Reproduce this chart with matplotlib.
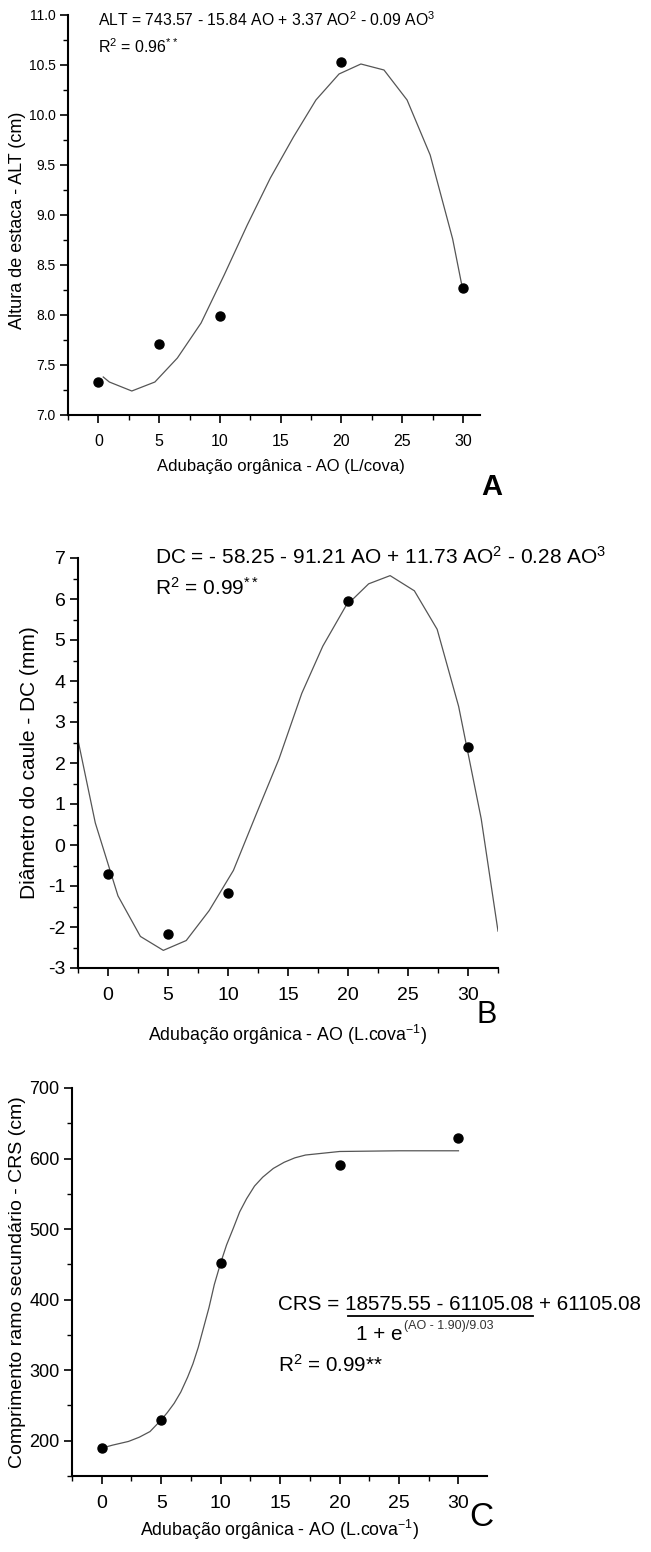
import matplotlib
matplotlib.use("Agg")
import matplotlib.pyplot as plt
from matplotlib import font_manager
from matplotlib.ticker import MultipleLocator, FormatStrFormatter
from matplotlib.lines import Line2D

# dados
ao = [0, 5, 10, 20, 30]
alt = [7.33, 7.71, 7.99, 10.53, 8.27]
dc = [-0.71, -2.16, -1.16, 5.94, 2.38]
crs = [190, 230, 452, 591, 629]

# curvas ajustadas (vertices)
alt_fit_x = [0.4, 0.9, 2.75, 4.65, 6.5, 8.45, 10.35, 12.25, 14.15, 16.05,
             17.9, 19.8, 21.6, 23.5, 25.4, 27.3, 29.15, 29.95]
alt_fit_y = [7.38, 7.33, 7.24, 7.33, 7.57, 7.92, 8.40, 8.90, 9.37, 9.78,
             10.15, 10.41, 10.51, 10.45, 10.15, 9.60, 8.76, 8.27]

dc_fit_x = [-2.5, -1.06, 0.83, 2.70, 4.61, 6.52, 8.43, 10.45, 12.35, 14.25,
            16.15, 17.9, 19.82, 21.72, 23.51, 25.53, 27.43, 29.22, 31.1, 32.5]
dc_fit_y = [2.56, 0.54, -1.24, -2.23, -2.57, -2.33, -1.60, -0.62, 0.75, 2.10,
            3.70, 4.85, 5.83, 6.37, 6.57, 6.20, 5.26, 3.38, 0.64, -2.10]

crs_fit_x = [0.1, 0.9, 2.25, 3.16, 4.06, 5.0, 5.52, 6.09, 6.65, 7.22, 7.67,
             8.12, 8.57, 9.02, 9.47, 10.0, 10.5, 11.06, 11.6, 12.18, 12.85,
             13.54, 14.43, 15.34, 16.24, 17.14, 20.0, 25.0, 30.0]
crs_fit_y = [190, 193.7, 199, 205, 213, 229.5, 240, 253, 269, 290, 309,
             332.5, 360.6, 388.7, 421.5, 452, 477.6, 501, 524.4, 543, 561,
             573.6, 586, 594.7, 601, 605, 610, 611, 611]

names = {f.name for f in font_manager.fontManager.ttflist}
narrow = "Liberation Sans Narrow" if "Liberation Sans Narrow" in names else "Liberation Sans"
plt.rcParams["font.family"] = [narrow, "DejaVu Sans"]
plt.rcParams["mathtext.fontset"] = "custom"
plt.rcParams["mathtext.rm"] = narrow
plt.rcParams["mathtext.it"] = narrow
plt.rcParams["axes.unicode_minus"] = False

W, H = 651, 1552
fig = plt.figure(figsize=(W / 100, H / 100), dpi=100)


def box(left, right, top, bottom):
    return [left / W, 1 - bottom / H, (right - left) / W, (bottom - top) / H]


def ftext(x, y, s, **kw):
    return fig.text(x / W, 1 - y / H, s, **kw)


def style(ax, xmaj, xmin, ymaj, ymin, xsize, ysize):
    for side in ["top", "right"]:
        ax.spines[side].set_visible(False)
    for side in ["left", "bottom"]:
        ax.spines[side].set_linewidth(1.5)
    ax.xaxis.set_major_locator(MultipleLocator(xmaj))
    ax.xaxis.set_minor_locator(MultipleLocator(xmin))
    ax.yaxis.set_major_locator(MultipleLocator(ymaj))
    ax.yaxis.set_minor_locator(MultipleLocator(ymin))
    ax.tick_params(which="major", direction="out", length=6, width=1.2)
    ax.tick_params(which="minor", direction="out", length=3.5, width=1.0)
    ax.tick_params(axis="x", labelsize=xsize, pad=8)
    ax.tick_params(axis="y", labelsize=ysize, pad=3)


# ---- A ----
axA = fig.add_axes(box(68, 480, 15, 415))
axA.plot(alt_fit_x, alt_fit_y, color="#555555", lw=0.9)
axA.plot(ao, alt, "o", color="black", ms=6.5)
axA.set_xlim(-2.5, 31.4)
axA.set_ylim(7.0, 11.0)
style(axA, 5, 2.5, 0.5, 0.25, 11.5, 10)
axA.yaxis.set_major_formatter(FormatStrFormatter("%.1f"))
axA.set_xticks([0, 5, 10, 15, 20, 25, 30])
ftext(98, 20, r"ALT = 743.57 - 15.84 AO + 3.37 AO$^2$ - 0.09 AO$^3$",
      fontsize=11.3, va="center")
ftext(98, 47, r"R$^2$ = 0.96$^{**}$", fontsize=11.5, va="center")
ftext(281, 467, "Adubação orgânica - AO (L/cova)", fontsize=12,
      ha="center", va="center")
ftext(18, 220, "Altura de estaca - ALT (cm)", fontsize=13, rotation=90,
      ha="center", va="center")
ftext(492, 487, "A", fontsize=21, fontweight="bold", family="Liberation Sans",
      ha="center", va="center")

# ---- B ----
axB = fig.add_axes(box(78, 498, 558, 968))
axB.plot(dc_fit_x, dc_fit_y, color="#555555", lw=0.9)
axB.plot(ao, dc, "o", color="black", ms=6.5)
axB.set_xlim(-2.5, 32.5)
axB.set_ylim(-3, 7)
style(axB, 5, 2.5, 1, 0.5, 14, 14)
axB.set_xticks([0, 5, 10, 15, 20, 25, 30])
ftext(155, 557, r"DC = - 58.25 - 91.21 AO + 11.73 AO$^2$ - 0.28 AO$^3$",
      fontsize=15, va="center")
ftext(155, 588, r"R$^2$ = 0.99$^{**}$", fontsize=15, va="center")
ftext(288, 1035, r"Adubação orgânica - AO (L.cova$^{-1}$)", fontsize=12.8,
      ha="center", va="center")
ftext(30, 763, "Diâmetro do caule - DC (mm)", fontsize=15, rotation=90,
      ha="center", va="center")
ftext(487, 1015, "B", fontsize=22, ha="center", va="center")

# ---- C ----
axC = fig.add_axes(box(72, 487, 1088, 1476))
axC.plot(crs_fit_x, crs_fit_y, color="#555555", lw=0.9)
axC.plot(ao, crs, "o", color="black", ms=6.5)
axC.set_xlim(-2.5, 32.4)
axC.set_ylim(150, 700)
style(axC, 5, 2.5, 100, 50, 14, 13)
axC.set_xticks([0, 5, 10, 15, 20, 25, 30])
axC.set_yticks([200, 300, 400, 500, 600, 700])

eq_size = 14.9
head = "CRS = "
numer = "18575.55 - 61105.08"
tail = " + 61105.08"
eq = ftext(278, 1305, head + numer + tail, fontsize=eq_size, va="center")
ftext(278, 1365, "R$^2$ = 0.99**", fontsize=eq_size, va="center")
ftext(280, 1530, r"Adubação orgânica - AO (L.cova$^{-1}$)", fontsize=12.8,
      ha="center", va="center")
ftext(18, 1282, "Comprimento ramo secundário - CRS (cm)", fontsize=14,
      rotation=90, ha="center", va="center")
ftext(481, 1517, "C", fontsize=24, ha="center", va="center")

# sublinhado do numerador e denominador, medidos a partir do texto
fig.canvas.draw()
r = fig.canvas.get_renderer()
inv = fig.transFigure.inverted()
probe1 = ftext(278, 1305, head, fontsize=eq_size, va="center")
probe2 = ftext(278, 1305, head + numer, fontsize=eq_size, va="center")
b1 = probe1.get_window_extent(r).transformed(inv)
b2 = probe2.get_window_extent(r).transformed(inv)
probe1.remove()
probe2.remove()
x_num0 = b1.x1 + 0.004
x_num1 = b2.x1
y_line = 1 - 1316 / H
fig.add_artist(Line2D([x_num0, x_num1], [y_line, y_line],
                      transform=fig.transFigure, color="black", lw=1.3))
wnum = x_num1 - x_num0
den = fig.text(x_num0 + 0.047 * wnum, 1 - 1335 / H, "1 + e",
               fontsize=eq_size, va="center")
fig.canvas.draw()
bd = den.get_window_extent(r).transformed(inv)
fig.text(bd.x1 + 0.002, 1 - 1326 / H, "(AO - 1.90)/9.03", fontsize=9,
         va="center", color="#333333")

fig.savefig("out.png", dpi=100)
